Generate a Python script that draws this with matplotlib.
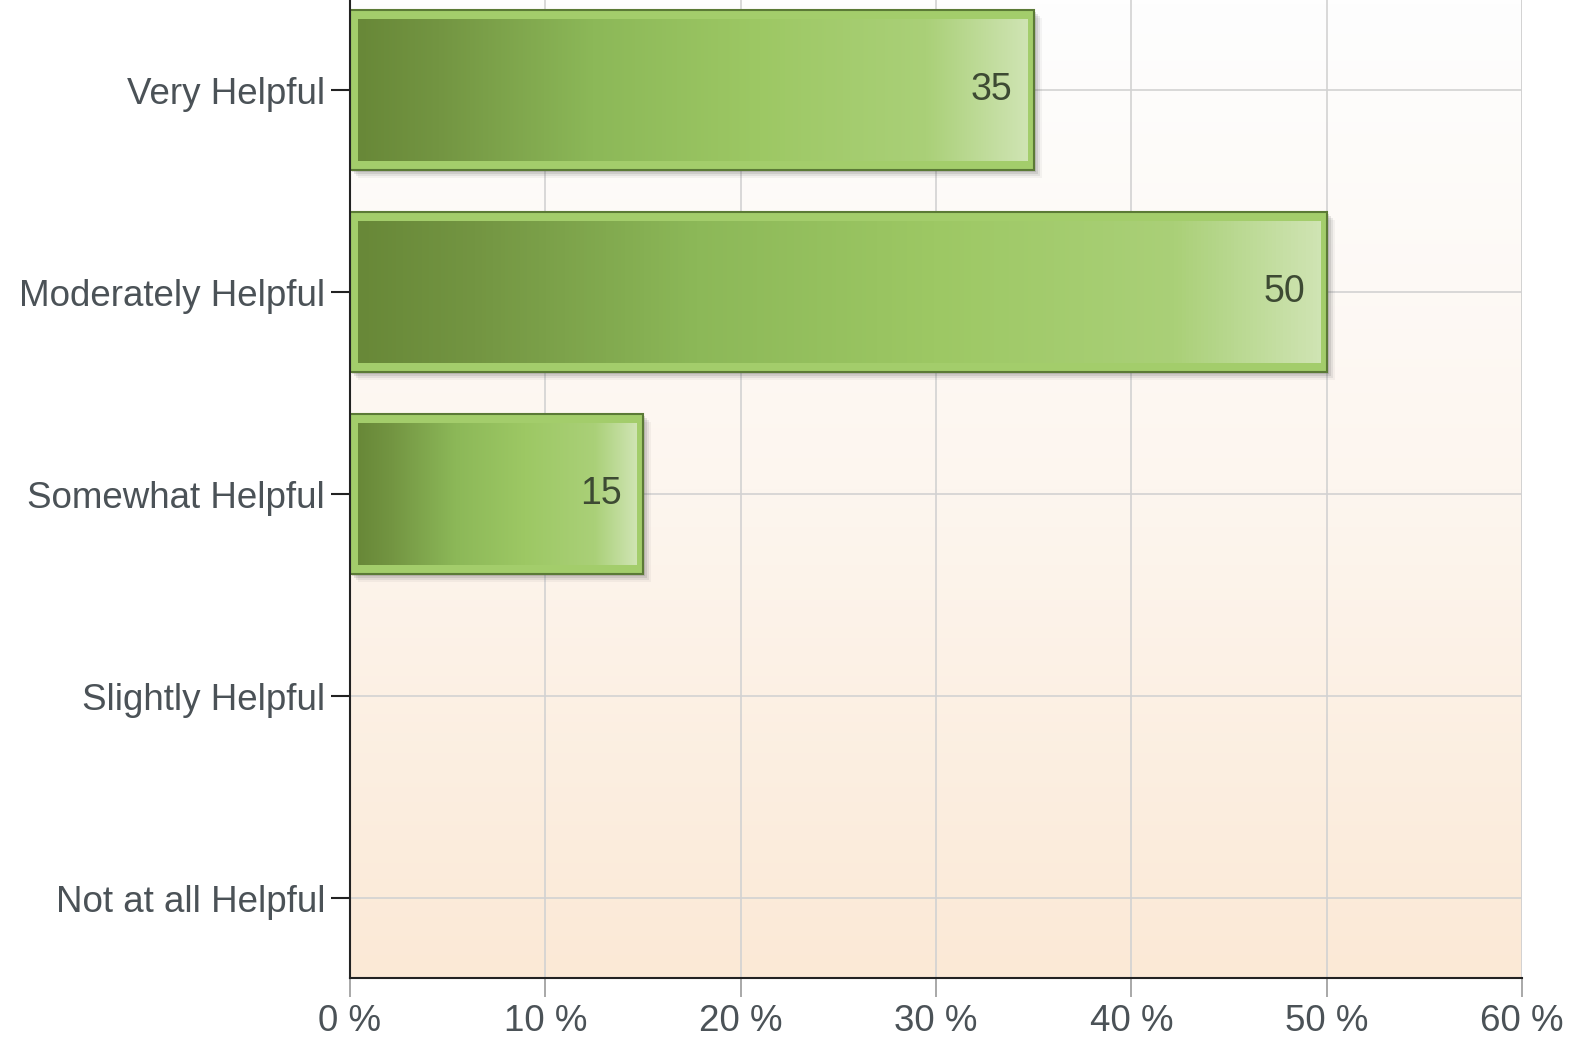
import matplotlib.pyplot as plt
import numpy as np
from matplotlib.colors import LinearSegmentedColormap
from matplotlib.patches import Rectangle

categories = ['Very Helpful', 'Moderately Helpful', 'Somewhat Helpful',
              'Slightly Helpful', 'Not at all Helpful']
values = [35, 50, 15, 0, 0]
xticks = [0, 10, 20, 30, 40, 50, 60]
xticklabels = ['%d %%' % t for t in xticks]

plt.rcParams['font.family'] = ['Liberation Sans', 'DejaVu Sans']

fig = plt.figure(figsize=(15.76, 10.45), dpi=100)
ax = fig.add_axes([350 / 1576, (1045 - 978) / 1045, (1522 - 350) / 1576, 978 / 1045])

xmin, xmax = 0, 60
ymin, ymax = 4.396, -0.446
ax.set_xlim(xmin, xmax)
ax.set_ylim(ymin, ymax)

# background: white at top to peach at bottom
bg = LinearSegmentedColormap.from_list('bg', ['#fefefe', '#fdf6ef', '#fbe9d6'])
ax.imshow(np.linspace(0, 1, 256).reshape(-1, 1), cmap=bg, aspect='auto',
          extent=(xmin, xmax, ymin, ymax), origin='upper', zorder=0)

ax.set_xticks(xticks)
ax.set_xticklabels(xticklabels)
ax.set_yticks(range(len(categories)))
ax.set_yticklabels(categories)
ax.grid(True, color='#d2d2d2', linewidth=1.2, zorder=1)
ax.set_axisbelow(True)

bar_cmap = LinearSegmentedColormap.from_list(
    'bar', [(0, '#688838'), (0.12, '#739542'), (0.35, '#8cb858'),
            (0.6, '#9dc864'), (0.85, '#aad078'), (1.0, '#cfe4b3')])

px_x = 60 / 1172.0
px_y = 1 / 202.0
h = 0.79
for i, v in enumerate(values):
    if v <= 0:
        continue
    y0 = i - h / 2
    # shadow
    for k, a in [(8, 0.06), (6, 0.1), (4, 0.14), (2, 0.18)]:
        ax.add_patch(Rectangle((k * px_x, y0 + k * px_y), v, h,
                               facecolor='#555555', alpha=a, edgecolor='none', zorder=2))
    # outer light border
    ax.add_patch(Rectangle((0, y0), v, h, facecolor='#a3cd6b',
                           edgecolor='#5b7a36', linewidth=1.5, zorder=3))
    # inner gradient
    ix0 = 8 * px_x
    ix1 = v - 6 * px_x
    iy0 = y0 + 9 * px_y
    iy1 = y0 + h - 9 * px_y
    ax.imshow(np.linspace(0, 1, 256).reshape(1, -1), cmap=bar_cmap, aspect='auto',
              extent=(ix0, ix1, iy1, iy0), zorder=4)
    ax.text(v - 1.1, i, str(v), ha='right', va='center', fontsize=27,
            color='#3d4a33', zorder=5)

for s in ['top', 'right']:
    ax.spines[s].set_visible(False)
ax.spines['left'].set_color('#222222')
ax.spines['bottom'].set_color('#222222')
ax.spines['left'].set_linewidth(1.5)
ax.spines['bottom'].set_linewidth(1.5)
ax.spines['left'].set_zorder(6)
ax.spines['bottom'].set_zorder(6)
ax.axvline(60, color='#d2d2d2', linewidth=1.2, zorder=1)

ax.tick_params(axis='y', length=14, width=1.5, color='#222222', labelsize=26.5,
               labelcolor='#4b5257', pad=4)
ax.tick_params(axis='x', length=14, width=1.2, color='#999999', labelsize=26.5,
               labelcolor='#4b5257', pad=5)

fig.savefig('out.png', dpi=100)
